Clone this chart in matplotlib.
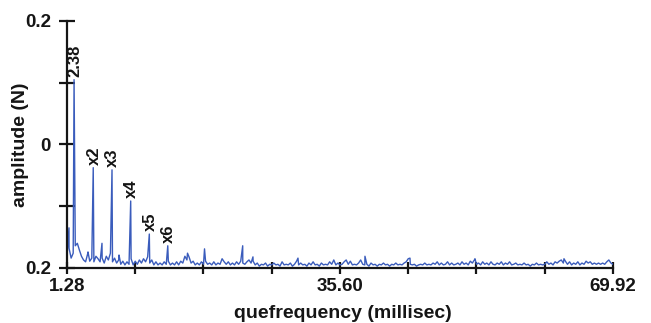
import numpy as np
import matplotlib
matplotlib.use("Agg")
import matplotlib.pyplot as plt

plt.rcParams['font.family'] = ['Liberation Sans', 'DejaVu Sans']
plt.rcParams['font.weight'] = 'bold'

# baseline of the cepstrum, one reading every 0.26 ms from 1.28 ms
q_start = 1.28
q_step = 0.26
baseline = [
    -0.181, -0.168, -0.184, -0.176, -0.164, -0.160, -0.171, -0.181, -0.187, -0.190,
    -0.177, -0.189, -0.184, -0.190, -0.181, -0.185, -0.190, -0.184, -0.192, -0.181,
    -0.187, -0.176, -0.190, -0.184, -0.192, -0.187, -0.194, -0.189, -0.195, -0.190,
    -0.194, -0.185, -0.195, -0.189, -0.194, -0.187, -0.192, -0.185, -0.190, -0.182,
    -0.192, -0.187, -0.195, -0.190, -0.195, -0.192, -0.195, -0.190, -0.194, -0.189,
    -0.195, -0.192, -0.195, -0.190, -0.195, -0.189, -0.192, -0.181, -0.187, -0.182,
    -0.192, -0.189, -0.195, -0.192, -0.195, -0.190, -0.194, -0.189, -0.194, -0.192,
    -0.195, -0.190, -0.195, -0.192, -0.194, -0.185, -0.190, -0.194, -0.190, -0.195,
    -0.192, -0.195, -0.190, -0.194, -0.189, -0.192, -0.194, -0.190, -0.187, -0.192,
    -0.189, -0.195, -0.192, -0.197, -0.194, -0.195, -0.192, -0.197, -0.194, -0.195,
    -0.192, -0.195, -0.194, -0.197, -0.190, -0.195, -0.194, -0.195, -0.192, -0.197,
    -0.194, -0.189, -0.195, -0.192, -0.195, -0.194, -0.197, -0.192, -0.195, -0.190,
    -0.195, -0.194, -0.197, -0.192, -0.195, -0.194, -0.195, -0.190, -0.194, -0.187,
    -0.195, -0.192, -0.195, -0.194, -0.190, -0.187, -0.194, -0.189, -0.195, -0.194,
    -0.195, -0.192, -0.187, -0.194, -0.195, -0.194, -0.197, -0.192, -0.195, -0.194,
    -0.197, -0.194, -0.195, -0.192, -0.195, -0.194, -0.197, -0.194, -0.195, -0.192,
    -0.195, -0.194, -0.195, -0.192, -0.190, -0.185, -0.194, -0.195, -0.194, -0.197,
    -0.195, -0.194, -0.195, -0.192, -0.195, -0.194, -0.195, -0.192, -0.194, -0.190,
    -0.195, -0.192, -0.195, -0.194, -0.190, -0.195, -0.192, -0.195, -0.194, -0.192,
    -0.195, -0.190, -0.194, -0.192, -0.195, -0.189, -0.192, -0.187, -0.194, -0.192,
    -0.195, -0.190, -0.194, -0.192, -0.195, -0.190, -0.194, -0.195, -0.192, -0.194,
    -0.190, -0.195, -0.192, -0.194, -0.190, -0.195, -0.194, -0.192, -0.195, -0.194,
    -0.195, -0.192, -0.195, -0.194, -0.197, -0.194, -0.195, -0.192, -0.195, -0.194,
    -0.195, -0.194, -0.190, -0.194, -0.192, -0.195, -0.190, -0.192, -0.189, -0.187,
    -0.192, -0.189, -0.194, -0.190, -0.195, -0.192, -0.194, -0.190, -0.195, -0.192,
    -0.194, -0.189, -0.192, -0.190, -0.194, -0.192, -0.194, -0.192, -0.194, -0.192,
    -0.194, -0.190, -0.187, -0.192, -0.194,
]

# narrow spikes (quefrency in ms, amplitude)
spike_q = [1.53, 2.17, 3.92, 4.58, 5.68, 6.94, 7.82, 9.29, 11.63, 13.95,
           16.43, 18.57, 23.37, 24.66, 30.32, 38.74, 44.40, 52.57, 63.76]
spike_amp = [-0.135, 0.105, -0.174, -0.0375, -0.160, -0.041, -0.179, -0.0915, -0.145, -0.164,
             -0.176, -0.169, -0.164, -0.182, -0.184, -0.181, -0.184, -0.185, -0.185]

# labelled peaks: fundamental and its multiples
peak_q = [2.17, 4.58, 6.94, 9.29, 11.63, 13.95]
peak_amp = [0.105, -0.0375, -0.041, -0.0915, -0.145, -0.164]
peak_labels = ['2.38', 'x2', 'x3', 'x4', 'x5', 'x6']

x_ticks = [1.28, 9.86, 18.44, 27.02, 35.60, 44.18, 52.76, 61.34, 69.92]
x_ticklabels = ['1.28', '', '', '', '35.60', '', '', '', '69.92']
y_ticks = [-0.2, -0.1, 0.0, 0.1, 0.2]
y_ticklabels = ['0.2', '', '0', '', '0.2']

base_q = q_start + q_step * np.arange(len(baseline))
q = np.concatenate([base_q, spike_q])
amp = np.concatenate([baseline, spike_amp])
order = np.argsort(q, kind='stable')
q, amp = q[order], amp[order]

ink = '#151515'

fig = plt.figure(figsize=(6.51, 3.23), dpi=100)
ax = fig.add_axes([0.1029, 0.1703, 0.8387, 0.7647])

ax.plot(q, amp, color='#3a5cbc', linewidth=1.0)

for x, y, lab in zip(peak_q, peak_amp, peak_labels):
    ax.annotate(lab, (x, y), xytext=(0.5, 2), textcoords='offset points',
                rotation=90, ha='center', va='bottom', fontsize=12,
                fontweight='bold', color=ink)

ax.set_xlim(1.28, 69.92)
ax.set_ylim(-0.2, 0.2)
ax.set_xticks(x_ticks)
ax.set_xticklabels(x_ticklabels)
ax.set_yticks(y_ticks)
ax.set_yticklabels(y_ticklabels)

for side in ['top', 'right']:
    ax.spines[side].set_visible(False)
for side in ['left', 'bottom']:
    ax.spines[side].set_linewidth(1.6)
    ax.spines[side].set_color(ink)

ax.tick_params(axis='y', direction='inout', length=11, width=1.6, pad=6,
               labelsize=13.5, colors=ink)
ax.tick_params(axis='x', direction='inout', length=8.5, width=1.6, pad=3,
               labelsize=13.5, colors=ink)
for lab in ax.get_xticklabels() + ax.get_yticklabels():
    lab.set_fontweight('bold')

ax.set_xlabel('quefrequency (millisec)', fontsize=14, fontweight='bold', color=ink)
ax.set_ylabel('amplitude (N)', fontsize=14, fontweight='bold', color=ink)
ax.xaxis.set_label_coords(0.505, -0.15)
ax.yaxis.set_label_coords(-0.07, 0.5)

fig.savefig('out.png', dpi=100)
